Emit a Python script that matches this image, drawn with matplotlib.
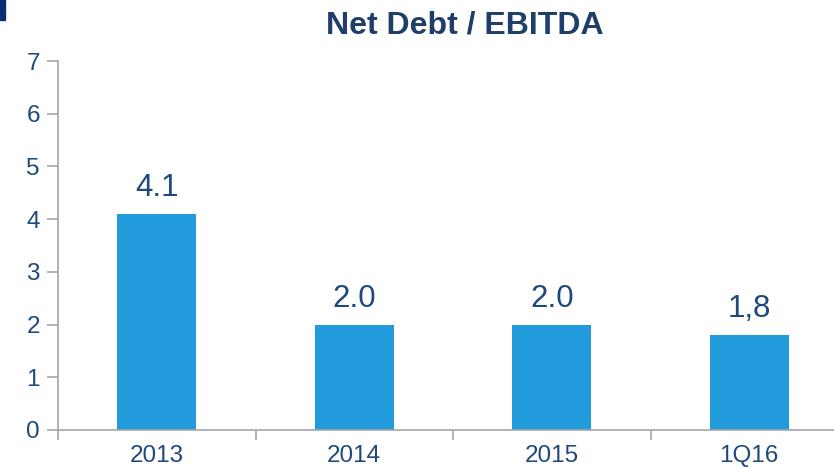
import matplotlib.pyplot as plt
import matplotlib.patches as mpatches

plt.rcParams['font.family'] = ['Liberation Sans', 'DejaVu Sans']

periods = ['2013', '2014', '2015', '1Q16']
ratio = [4.1, 2.0, 2.0, 1.8]
ratio_labels = ['4.1', '2.0', '2.0', '1,8']

text_col = '#1F497D'
bar_col = '#229BDC'
axis_col = '#A6A6A6'

fig = plt.figure(figsize=(8.34, 4.68), dpi=100)
ax = fig.add_axes([58 / 834, 38 / 468, 790 / 834, 369 / 468])

x = range(len(periods))
bars = ax.bar(x, ratio, width=0.4, color=bar_col, zorder=2)
for b, lab in zip(bars, ratio_labels):
    ax.text(b.get_x() + b.get_width() / 2, b.get_height() + 0.34, lab,
            ha='center', va='baseline', fontsize=22.5, color=text_col)

ax.set_xlim(-0.5, 3.5)
ax.set_ylim(0, 7)
ax.set_yticks(range(8))
ax.set_xticks([-0.5, 0.5, 1.5, 2.5, 3.5])
ax.set_xticklabels([])
ax.set_xticks(list(x), minor=True)
ax.set_xticklabels(periods, minor=True)

ax.tick_params(axis='y', direction='out', length=8, width=1.2, color=axis_col,
               labelsize=17.5, labelcolor=text_col, pad=5)
ax.tick_params(axis='x', which='major', direction='out', length=7, width=1.2, color=axis_col)
ax.tick_params(axis='x', which='minor', length=0, labelsize=17.5, labelcolor=text_col, pad=11)

for side in ['top', 'right']:
    ax.spines[side].set_visible(False)
for side in ['left', 'bottom']:
    ax.spines[side].set_color(axis_col)
    ax.spines[side].set_linewidth(1.2)

fig.text(465 / 834, 1 - 33 / 468, 'Net Debt / EBITDA', ha='center', va='baseline',
         fontsize=23, fontweight='bold', color='#1F3F6A')

# small corner marker
fig.patches.append(mpatches.Rectangle((0, 1 - 20 / 468), 5 / 834, 20 / 468,
                                      transform=fig.transFigure, color='#0B2C6E'))

fig.savefig('out.png', dpi=100)
